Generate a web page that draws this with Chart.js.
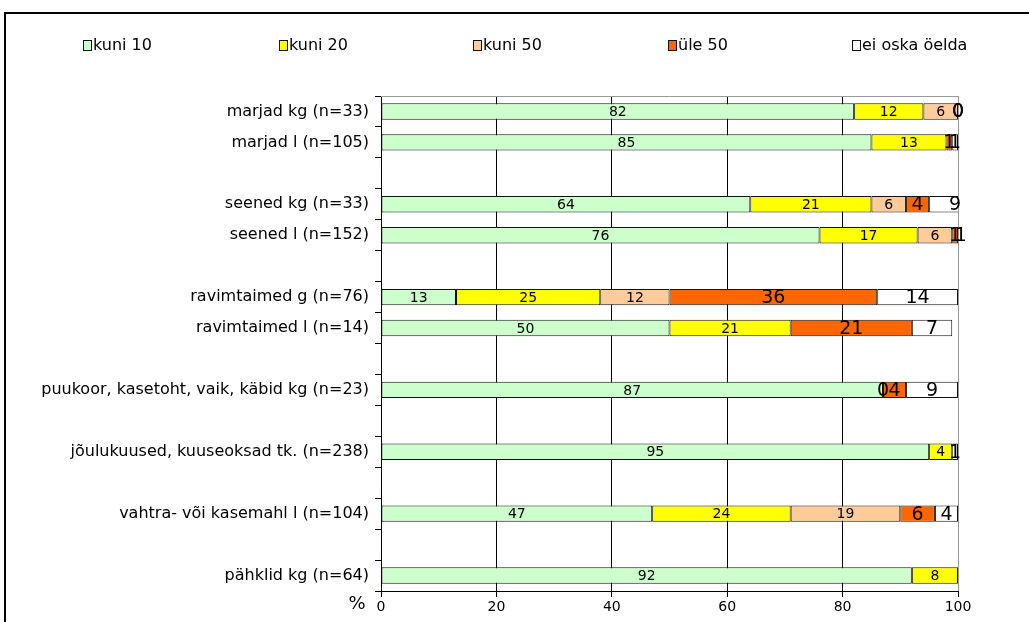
<!DOCTYPE html>
<html>
<head>
<meta charset="utf-8">
<script src="https://cdn.jsdelivr.net/npm/chart.js@4.4.1/dist/chart.umd.min.js"></script>
<style>
  html, body { margin: 0; padding: 0; background: #fff; overflow: hidden; }
  #frame { position: absolute; left: 4px; top: 12px; width: 1100px; height: 700px; border: 2px solid #000; box-sizing: border-box; }
  #wrap { position: absolute; left: 0; top: 0; width: 1029px; height: 622px; }
</style>
</head>
<body>
<div id="frame"></div>
<div id="wrap"><canvas id="c" width="1029" height="622"></canvas></div>
<script>
const categories = [
  'marjad kg (n=33)', 'marjad l (n=105)', '',
  'seened kg (n=33)', 'seened l (n=152)', '',
  'ravimtaimed g (n=76)', 'ravimtaimed l (n=14)', '',
  'puukoor, kasetoht, vaik, käbid kg (n=23)', '',
  'jõulukuused, kuuseoksad tk. (n=238)', '',
  'vahtra- või kasemahl l (n=104)', '',
  'pähklid kg (n=64)'
];
const seriesNames = ['kuni 10', 'kuni 20', 'kuni 50', 'üle 50', 'ei oska öelda'];
const kuni10 = [82, 85, null, 64, 76, null, 13, 50, null, 87, null, 95, null, 47, null, 92];
const kuni20 = [12, 13, null, 21, 17, null, 25, 21, null, null, null, 4, null, 24, null, 8];
const kuni50 = [6, null, null, 6, 6, null, 12, null, null, 0, null, null, null, 19, null, null];
const yle50 = [0, 1, null, 4, 1, null, 36, 21, null, 4, null, null, null, 6, null, null];
const eiOska = [0, 1, null, 9, 1, null, 14, 7, null, 9, null, 1, null, 4, null, null];
const xTicks = [0, 20, 40, 60, 80, 100];
const colors = ['#CCFFCC', '#FFFF00', '#FFCC99', '#FF6600', '#FFFFFF'];

const FONT = '"DejaVu Sans", Verdana, sans-serif';
const allSeries = [kuni10, kuni20, kuni50, yle50, eiOska];

const datasets = allSeries.map((d, i) => ({
  label: seriesNames[i],
  data: d,
  backgroundColor: colors[i],
  borderColor: '#111',
  borderWidth: 1,
  borderSkipped: false,
  barPercentage: 0.53,
  categoryPercentage: 1.0
}));

const legendPlugin = {
  id: 'customLegend',
  afterDraw(chart) {
    const ctx = chart.ctx;
    const xs = [83, 279, 473, 668, 852];
    const y = 46;
    ctx.save();
    ctx.font = '16px ' + FONT;
    ctx.textBaseline = 'middle';
    ctx.textAlign = 'left';
    chart.data.datasets.forEach((ds, i) => {
      ctx.fillStyle = ds.backgroundColor;
      ctx.fillRect(xs[i] + 0.5, y - 5.5, 8, 10);
      ctx.strokeStyle = '#111';
      ctx.lineWidth = 1;
      ctx.strokeRect(xs[i] + 0.5, y - 5.5, 8, 10);
      ctx.fillStyle = '#000';
      ctx.fillText(ds.label, xs[i] + 10, y);
    });
    ctx.restore();
  }
};

const labelsPlugin = {
  id: 'segLabels',
  afterDatasetsDraw(chart) {
    const ctx = chart.ctx;
    const ca = chart.chartArea;
    ctx.save();
    ctx.strokeStyle = '#999';
    ctx.lineWidth = 1;
    ctx.beginPath();
    ctx.moveTo(ca.left, Math.round(ca.top) + 0.5);
    ctx.lineTo(ca.right, Math.round(ca.top) + 0.5);
    ctx.stroke();
    ctx.textAlign = 'center';
    ctx.textBaseline = 'middle';
    ctx.fillStyle = '#000';
    chart.data.datasets.forEach((ds, di) => {
      const meta = chart.getDatasetMeta(di);
      meta.data.forEach((el, idx) => {
        const v = ds.data[idx];
        if (v === null || v === undefined) return;
        const big = di >= 3 || v === 0;
        ctx.font = (big ? '19px ' : '14px ') + FONT;
        const cx = (el.x + el.base) / 2;
        ctx.fillText(String(v), cx, el.y + 1);
      });
    });
    ctx.font = '18px ' + FONT;
    ctx.textAlign = 'center';
    ctx.fillText('%', ca.left - 24, ca.bottom + 13);
    ctx.restore();
  }
};

new Chart(document.getElementById('c'), {
  type: 'bar',
  data: { labels: categories, datasets },
  options: {
    indexAxis: 'y',
    responsive: false,
    animation: false,
    devicePixelRatio: 1,
    layout: { padding: { top: 96, right: 71, left: 0, bottom: 0 } },
    plugins: { legend: { display: false }, tooltip: { enabled: false } },
    scales: {
      x: {
        stacked: true,
        min: 0,
        max: 100,
        afterBuildTicks(scale) { scale.ticks = xTicks.map(v => ({ value: v })); },
        afterFit(scale) { scale.height = 31; },
        border: { display: true, color: '#000', width: 1 },
        grid: {
          drawOnChartArea: true,
          drawTicks: true,
          tickLength: 6,
          tickColor: '#000',
          color: (c) => (c.tick && c.tick.value === 100) ? '#999' : (c.tick && c.tick.value === 0 ? 'rgba(0,0,0,0)' : '#000'),
          lineWidth: 1
        },
        ticks: { font: { family: FONT, size: 14 }, color: '#000', padding: 2, maxRotation: 0 }
      },
      y: {
        stacked: true,
        afterFit(scale) { scale.width = 381; },
        border: { display: true, color: '#000', width: 1 },
        grid: {
          offset: true,
          drawOnChartArea: false,
          drawTicks: true,
          tickLength: 6,
          color: '#000',
          tickColor: '#000'
        },
        ticks: { font: { family: FONT, size: 16 }, color: '#000', padding: 6, autoSkip: false }
      }
    }
  },
  plugins: [legendPlugin, labelsPlugin]
});
</script>
</body>
</html>
